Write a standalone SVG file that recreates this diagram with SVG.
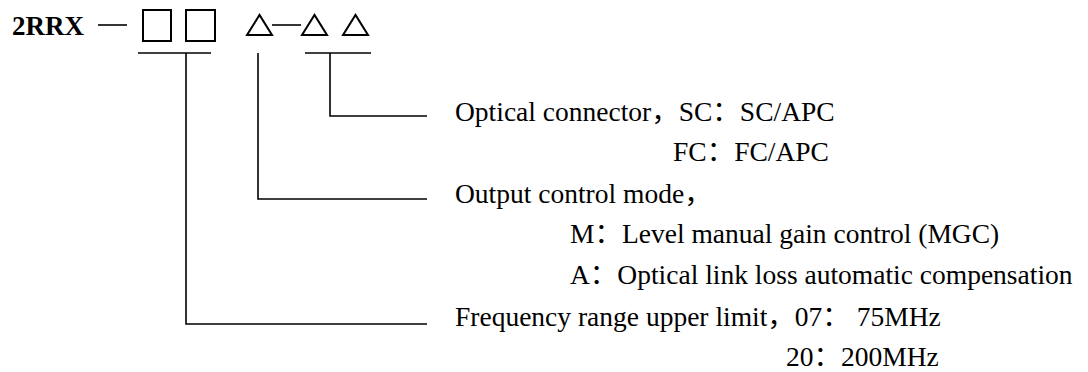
<svg xmlns="http://www.w3.org/2000/svg" width="1088" height="372" viewBox="0 0 1088 372">
<style>
.t{font-family:"Liberation Serif","Noto Sans CJK SC",serif;font-size:27.5px;fill:#000}
.b{font-weight:bold;font-size:27px}
.s{fill:none;stroke:#000;stroke-width:2}
.c{fill:none;stroke:#000;stroke-width:1.6}
</style>
<rect width="1088" height="372" fill="#fff"/>
<g id="code">
<text class="t b" x="12" y="35">2RRX</text>
<line class="c" x1="98" y1="25" x2="127" y2="25"/>
<rect class="s" x="143" y="10" width="28" height="31"/>
<rect class="s" x="186" y="10" width="29" height="31"/>
<polygon class="s" points="247,35 259.5,15 272,35"/>
<line class="c" x1="272" y1="25" x2="301" y2="25"/>
<polygon class="s" points="302,35 314.5,15 327,35"/>
<polygon class="s" points="343,35 355.5,15 368,35"/>
</g>
<g id="connectors">
<line class="c" x1="138" y1="53" x2="211" y2="53"/>
<polyline class="c" points="186,53 186,324 427,324"/>
<polyline class="c" points="258,53 258,199 427,199"/>
<line class="c" x1="305" y1="53" x2="371" y2="53"/>
<polyline class="c" points="330,53 330,116 427,116"/>
</g>
<g id="connector-label">
<text class="t" x="455" y="121">Optical connector，SC：SC/APC</text>
<text class="t" x="673" y="161">FC：FC/APC</text>
</g>
<g id="output-label">
<text class="t" x="455" y="203">Output control mode，</text>
<text class="t" x="570" y="243">M：Level manual gain control (MGC)</text>
<text class="t" x="570" y="284">A：Optical link loss automatic compensation</text>
</g>
<g id="frequency-label">
<text class="t" x="455" y="326">Frequency range upper limit，07：  75MHz</text>
<text class="t" x="786" y="366">20：200MHz</text>
</g>
</svg>
